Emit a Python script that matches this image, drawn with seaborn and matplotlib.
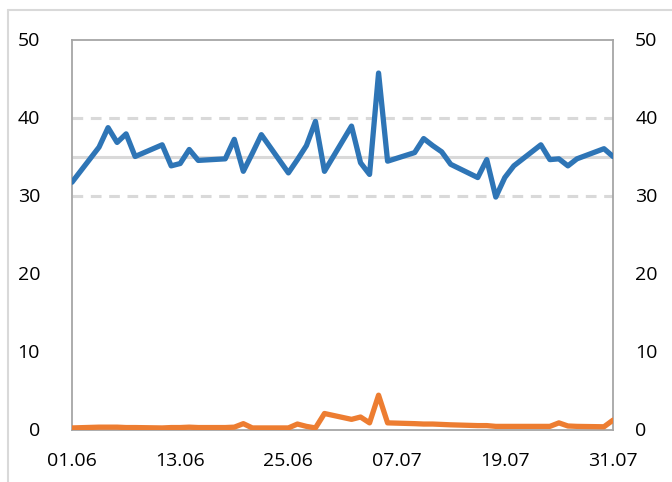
import matplotlib
matplotlib.use("Agg")
import matplotlib.pyplot as plt
import matplotlib.dates as mdates
import matplotlib.transforms as mtransforms
from matplotlib.lines import Line2D
import pandas as pd
import seaborn as sns

# business days 01.06.2018 - 31.07.2018
dates = pd.bdate_range("2018-06-01", "2018-07-31")

blue_values = [
    31.7, 36.2, 38.7, 36.8, 37.9, 35.0, 36.5, 33.8, 34.1, 35.9, 34.5,
    34.7, 37.2, 33.1, 35.4, 37.8, 32.9, 34.6, 36.4, 39.5, 33.1,
    38.9, 34.2, 32.7, 45.7, 34.4, 35.5, 37.3, 36.4, 35.6, 34.0,
    32.3, 34.6, 29.8, 32.3, 33.8, 36.5, 34.6, 34.7, 33.8, 34.7,
    36.0, 35.0,
]
orange_values = [
    0.2, 0.3, 0.3, 0.3, 0.25, 0.25, 0.2, 0.25, 0.25, 0.3, 0.25,
    0.25, 0.3, 0.75, 0.2, 0.2, 0.2, 0.7, 0.4, 0.2, 2.05,
    1.3, 1.6, 0.85, 4.4, 0.85, 0.75, 0.7, 0.7, 0.65, 0.6,
    0.5, 0.5, 0.4, 0.4, 0.4, 0.4, 0.4, 0.85, 0.45, 0.4,
    0.35, 1.2,
]
mean_level = 35
band_levels = [30, 40]
y_ticks = [0, 10, 20, 30, 40, 50]
x_tick_dates = pd.date_range("2018-06-01", periods=6, freq="12D")

df = pd.DataFrame({"date": dates, "blue": blue_values, "orange": orange_values})

sns.set_style("white")
plt.rcParams["font.family"] = ["Open Sans", "DejaVu Sans"]

fig = plt.figure(figsize=(6.72, 4.82), dpi=100)
ax = fig.add_axes([72 / 672, 1 - 429.5 / 482, (613 - 72) / 672, (429.5 - 39.5) / 482])

# frame of the figure (only top / left visible in the crop)
fig.add_artist(Line2D([8 / 672, 1], [1 - 10 / 482] * 2, color="#d9d9d9", lw=1.5,
                      transform=fig.transFigure))
fig.add_artist(Line2D([8 / 672] * 2, [0, 1 - 10 / 482], color="#d9d9d9", lw=1.5,
                      transform=fig.transFigure))

ax.axhline(mean_level, color="#d9d9d9", lw=2.2, zorder=1)
for lv in band_levels:
    ax.axhline(lv, color="#d9d9d9", lw=2.2, ls=(0, (3.5, 2.5)), zorder=1)

sns.lineplot(data=df, x="date", y="blue", ax=ax, color="#2e75b6", lw=3.8,
             solid_joinstyle="round", solid_capstyle="round", zorder=3)
sns.lineplot(data=df, x="date", y="orange", ax=ax, color="#ed7d31", lw=3.8,
             solid_joinstyle="round", solid_capstyle="round", zorder=3)

ax.set_xlim(dates[0], dates[-1])
ax.set_ylim(0, 50)
ax.set_yticks(y_ticks)
ax.set_xticks(x_tick_dates)
ax.xaxis.set_major_formatter(mdates.DateFormatter("%d.%m"))
# little tick marks sit half a day before each label date
ax.set_xticks(x_tick_dates[:-1] + pd.Timedelta(hours=276), minor=True)
ax.set_xlabel("")
ax.set_ylabel("")

for s in ax.spines.values():
    s.set_color("#a6a6a6")
    s.set_linewidth(1.3)
    s.set_visible(True)

ax.tick_params(axis="y", length=0, labelsize=14, labelright=True, pad=23,
               labelcolor="black")
ax.tick_params(axis="x", which="major", length=0, labelsize=14, pad=16,
               labelcolor="black")
ax.tick_params(axis="x", which="minor", direction="in", length=5, width=1.3,
               color="#a6a6a6")

# right labels sit closer to the spine than the left ones
offset = mtransforms.ScaledTranslation(-7 / 72, 0, fig.dpi_scale_trans)
for t in ax.yaxis.get_major_ticks():
    t.label2.set_transform(t.label2.get_transform() + offset)

fig.savefig("out.png", dpi=100)
